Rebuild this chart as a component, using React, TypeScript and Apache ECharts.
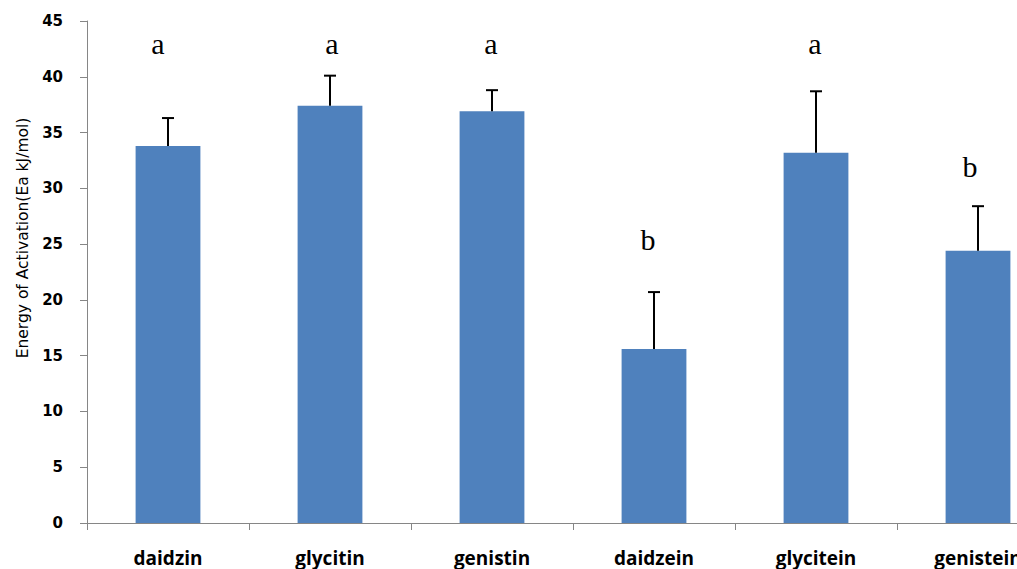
import React, { useEffect, useRef } from "react";
import * as echarts from "echarts";

const categories = ["daidzin", "glycitin", "genistin", "daidzein", "glycitein", "genistein"];
const means = [33.8, 37.4, 36.9, 15.6, 33.2, 24.4];
const errors = [2.5, 2.7, 1.9, 5.1, 5.5, 4.0];
const letters = ["a", "a", "a", "b", "a", "b"];
const letterLevels = [43.0, 43.0, 43.0, 25.4, 43.0, 32.0];
const yTicks = { min: 0, max: 45, interval: 5 };
const yTitle = "Energy of Activation(Ea kJ/mol)";

// small horizontal nudges of the significance letters (px), as in the original figure
const letterDx = [-10, 2, -1, -6, -1, -8];

export default function App() {
  const ref = useRef<HTMLDivElement>(null);
  useEffect(() => {
    if (!ref.current) return;
    const chart = echarts.init(ref.current, null, { renderer: "svg" });
    const axisColor = "#868686";
    chart.setOption({
      animation: false,
      backgroundColor: "#ffffff",
      grid: { left: 87, top: 21, bottom: 46, right: 0, containLabel: false },
      graphic: [
        {
          type: "text",
          x: 23,
          y: 238,
          rotation: Math.PI / 2,
          style: {
            text: yTitle,
            font: "15.5px 'DejaVu Sans'",
            fill: "#000",
            textAlign: "center",
            textVerticalAlign: "middle",
          },
        },
      ],
      xAxis: {
        type: "category",
        data: categories,
        axisLine: { lineStyle: { color: axisColor, width: 1 } },
        axisTick: { show: true, length: 7, alignWithLabel: false, lineStyle: { color: axisColor } },
        axisLabel: {
          margin: 25,
          color: "#000",
          fontSize: 19,
          fontWeight: "bold",
          fontFamily: "'Open Sans', sans-serif",
          interval: 0,
        },
        splitLine: { show: false },
      },
      yAxis: {
        type: "value",
        min: yTicks.min,
        max: yTicks.max,
        interval: yTicks.interval,
        axisLine: { show: true, lineStyle: { color: axisColor, width: 1 } },
        axisTick: { show: true, length: 7, lineStyle: { color: axisColor } },
        axisLabel: {
          margin: 24,
          color: "#000",
          fontSize: 15,
          fontWeight: "bold",
          fontFamily: "'DejaVu Sans', sans-serif",
        },
        splitLine: { show: false },
      },
      series: [
        {
          type: "bar",
          data: means,
          barWidth: "40%",
          itemStyle: { color: "#4F81BD" },
        },
        {
          type: "custom",
          data: means.map((m, i) => [i, m, m + errors[i]]),
          z: 5,
          renderItem: (params: any, api: any) => {
            const i = api.value(0);
            const p0 = api.coord([i, api.value(1)]);
            const p1 = api.coord([i, api.value(2)]);
            const style = { stroke: "#000", lineWidth: 2 };
            return {
              type: "group",
              children: [
                { type: "line", shape: { x1: p0[0], y1: p0[1], x2: p1[0], y2: p1[1] }, style },
                { type: "line", shape: { x1: p1[0] - 6, y1: p1[1], x2: p1[0] + 6, y2: p1[1] }, style },
              ],
            };
          },
        },
        {
          type: "custom",
          data: letterLevels.map((v, i) => [i, v]),
          z: 6,
          renderItem: (params: any, api: any) => {
            const i = api.value(0);
            const p = api.coord([i, api.value(1)]);
            return {
              type: "text",
              x: p[0] + letterDx[params.dataIndex],
              y: p[1],
              style: {
                text: letters[params.dataIndex],
                font: "30px 'Liberation Serif', serif",
                fill: "#000",
                textAlign: "center",
                textVerticalAlign: "middle",
              },
            };
          },
        },
      ],
    });
    return () => chart.dispose();
  }, []);
  return (
    <div style={{ position: "absolute", left: 0, top: 0, width: 1017, height: 569, overflow: "hidden" }}>
      <div ref={ref} style={{ width: 1059, height: 569 }} />
    </div>
  );
}
